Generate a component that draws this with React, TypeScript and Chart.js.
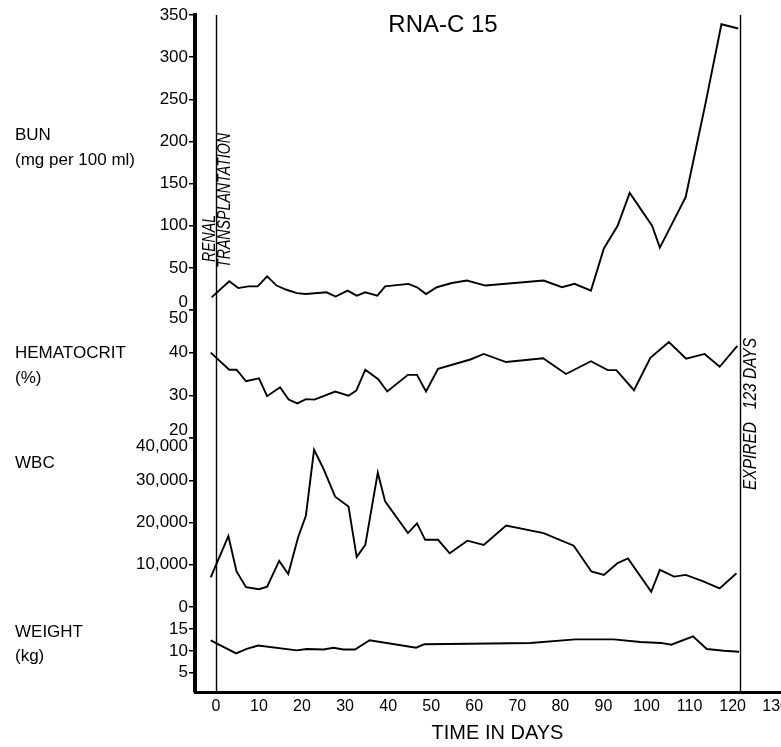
import React, { useEffect, useRef } from 'react';
import { Chart, registerables } from 'chart.js';

Chart.register(...registerables);

// ---- Data ----
const chartTitle = 'RNA-C 15';
const xTickValues = [0, 10, 20, 30, 40, 50, 60, 70, 80, 90, 100, 110, 120, 130];
const bunTickValues = [0, 50, 100, 150, 200, 250, 300, 350];
const hctTickValues = [20, 30, 40, 50];
const wbcTickValues = [0, 10000, 20000, 30000, 40000];
const weightTickValues = [5, 10, 15];

const transplantDay = 0;
const expiredDay = 121.6;

const bunDays = [-1, 3.1, 5.2, 7.5, 9.7, 11.9, 14.1, 16.4, 18.8, 20.9, 25.7, 27.8, 30.6, 32.7, 34.7, 37.5, 39.3, 44.7, 46.7, 48.8, 51.3, 54.8, 58.3, 62.6, 76.1, 80.4, 83.3, 87.1, 90.1, 93.3, 96.1, 101.3, 103.1, 106.4, 109.1, 113.7, 117.4, 121.3];
const bunValues = [15, 34, 26, 28, 28, 40, 29, 24, 20, 19, 21, 16, 23, 17, 21, 17, 28, 31, 27, 19, 27, 32, 35, 29, 35, 27, 31, 23, 73, 100, 139, 100, 74, 107, 134, 245, 339, 334];

const hctDays = [-1.2, 3.1, 4.8, 7.0, 10.0, 11.9, 14.9, 16.9, 18.9, 20.9, 22.9, 27.7, 30.8, 32.6, 34.7, 37.7, 39.8, 44.6, 46.7, 48.8, 51.6, 59.1, 62.2, 67.4, 76.0, 81.3, 87.1, 91.0, 93.0, 97.1, 100.9, 105.2, 109.2, 113.5, 117.0, 121.1];
const hctValues = [40, 36, 36, 33.3, 34, 29.8, 31.9, 29, 28.1, 29.1, 29, 30.9, 29.9, 31.1, 36, 33.8, 30.9, 34.8, 34.8, 30.9, 36.2, 38.4, 39.7, 37.8, 38.7, 35, 38, 35.9, 35.9, 31.2, 38.8, 42.5, 38.6, 39.7, 36.7, 41.6];

const wbcDays = [-1.2, 2.9, 4.8, 7.0, 10.0, 11.9, 14.7, 16.8, 19.1, 20.9, 22.8, 24.9, 27.7, 30.8, 32.7, 34.7, 37.6, 39.3, 44.6, 46.7, 48.6, 51.6, 54.3, 58.4, 62.2, 67.4, 76.1, 83.1, 87.2, 90.1, 93.3, 95.7, 101.1, 103.1, 106.4, 109.1, 112.9, 117.0, 120.9];
const wbcValues = [7000, 16800, 8400, 4700, 4200, 4800, 10900, 7800, 16500, 21600, 37200, 32900, 26100, 23800, 11800, 14700, 31800, 25000, 17500, 19800, 15900, 15900, 12700, 15700, 14700, 19300, 17500, 14500, 8400, 7600, 10400, 11500, 3600, 8800, 7200, 7600, 6200, 4400, 8000];

const weightDays = [-1.2, 4.7, 7.0, 9.8, 18.8, 21.1, 25.0, 27.3, 29.6, 32.3, 35.7, 46.5, 48.4, 59.1, 73.0, 83.5, 92.4, 98.6, 103.3, 105.8, 110.8, 114.0, 118.0, 121.5];
const weightValues = [12.4, 9.4, 10.4, 11.2, 10.1, 10.4, 10.3, 10.7, 10.3, 10.3, 12.4, 10.7, 11.5, 11.6, 11.8, 12.6, 12.6, 12.0, 11.8, 11.4, 13.3, 10.4, 10.0, 9.8];

const FONT = "'Liberation Sans', Arial, sans-serif";

function series(days: number[], values: number[], yAxisID: string) {
  return {
    data: days.map((d, i) => ({ x: d, y: values[i] })),
    xAxisID: 'x',
    yAxisID,
    borderColor: '#000',
    borderWidth: 1.9,
    pointRadius: 0,
    tension: 0,
    fill: false,
  };
}

function yScale(
  min: number,
  max: number,
  tickValues: number[],
  fmt: (v: number) => string | string[],
  weight: number,
  stackWeight: number
) {
  return {
    type: 'linear',
    position: 'left',
    stack: 'left',
    stackWeight,
    weight,
    min,
    max,
    border: { display: true, color: '#000', width: 4 },
    grid: {
      display: true,
      drawOnChartArea: false,
      drawTicks: true,
      tickLength: 6,
      color: '#000',
      lineWidth: 1.5,
    },
    ticks: {
      color: '#000',
      font: { family: FONT, size: 17, lineHeight: 0.95 },
      padding: 1,
      autoSkip: false,
      callback: (v: number) => fmt(v),
    },
    afterBuildTicks: (s: any) => {
      s.ticks = tickValues.map((v) => ({ value: v }));
    },
    afterFit: (s: any) => {
      s.width = 195;
      s.paddingTop = 0;
      s.paddingBottom = 0;
    },
  };
}

function vText(ctx: CanvasRenderingContext2D, text: string, cx: number, yBottom: number, length: number, font: string) {
  ctx.save();
  ctx.font = font;
  ctx.translate(cx, yBottom);
  ctx.rotate(-Math.PI / 2);
  const w = ctx.measureText(text).width;
  ctx.scale(length / w, 1);
  ctx.textAlign = 'left';
  ctx.textBaseline = 'middle';
  ctx.fillText(text, 0, 0);
  ctx.restore();
}

const annotatePlugin = {
  id: 'annotate',
  afterDatasetsDraw(chart: any) {
    const { ctx, chartArea, scales } = chart;
    const xs = scales.x;
    ctx.save();
    ctx.strokeStyle = '#000';
    ctx.lineWidth = 1.4;
    [transplantDay, expiredDay].forEach((d) => {
      const px = Math.round(xs.getPixelForValue(d)) + 0.5;
      ctx.beginPath();
      ctx.moveTo(px, chartArea.top);
      ctx.lineTo(px, chartArea.bottom);
      ctx.stroke();
    });

    ctx.fillStyle = '#000';
    ctx.textAlign = 'center';
    ctx.textBaseline = 'middle';
    ctx.font = `24px ${FONT}`;
    ctx.fillText(chartTitle, 443, 25);

    ctx.textAlign = 'left';
    ctx.font = `17px ${FONT}`;
    ctx.fillText('BUN', 15, 135);
    ctx.fillText('(mg per 100 ml)', 15, 160);
    ctx.fillText('HEMATOCRIT', 15, 353);
    ctx.fillText('(%)', 15, 378);
    ctx.fillText('WBC', 15, 463);
    ctx.fillText('WEIGHT', 15, 632);
    ctx.fillText('(kg)', 15, 656);

    const x0 = xs.getPixelForValue(transplantDay);
    const x1 = xs.getPixelForValue(expiredDay);
    vText(ctx, 'RENAL', x0 - 6, 262, 47, `italic 18px ${FONT}`);
    vText(ctx, 'TRANSPLANTATION', x0 + 9, 268, 135, `italic 18px ${FONT}`);
    vText(ctx, 'EXPIRED   123 DAYS', x1 + 11, 490, 152, `italic 18px ${FONT}`);
    ctx.restore();
  },
};

export default function App() {
  const ref = useRef<HTMLCanvasElement>(null);

  useEffect(() => {
    document.body.style.margin = '0';
    document.body.style.overflow = 'hidden';
    const canvas = ref.current!;
    const chart = new Chart(canvas, {
      type: 'line',
      data: {
        datasets: [
          series(bunDays, bunValues, 'bun'),
          series(hctDays, hctValues, 'hct'),
          series(wbcDays, wbcValues, 'wbc'),
          series(weightDays, weightValues, 'wt'),
        ] as any,
      },
      options: {
        responsive: false,
        animation: false,
        events: [],
        layout: { padding: { top: 15, left: 0, right: 0, bottom: 0 } },
        plugins: {
          legend: { display: false },
          tooltip: { enabled: false },
        },
        scales: {
          x: {
            type: 'linear',
            position: 'bottom',
            min: -4.85,
            max: 135.65,
            border: { display: true, color: '#000', width: 3 },
            grid: { display: false },
            ticks: {
              color: '#000',
              font: { family: FONT, size: 16 },
              padding: -3,
              autoSkip: false,
              maxRotation: 0,
              includeBounds: false,
              callback: (v: any) => String(v),
            },
            afterBuildTicks: (s: any) => {
              s.ticks = xTickValues.map((v) => ({ value: v }));
            },
            afterFit: (s: any) => {
              s.height = 55;
              s.paddingLeft = 0;
              s.paddingRight = 0;
            },
            title: {
              display: true,
              text: 'TIME IN DAYS',
              color: '#000',
              font: { family: FONT, size: 20 },
              padding: { top: 0, bottom: 2 },
              align: 'center',
            },
          },
          bun: yScale(0, 350, bunTickValues, (v) => (v === 0 ? ['0', ''] : String(v)), 4, 295),
          hct: yScale(20, 50, hctTickValues, (v) => (v === 50 ? ['', '50'] : v === 20 ? ['20', ''] : String(v)), 3, 128),
          wbc: yScale(0, 40000, wbcTickValues, (v) => (v === 40000 ? ['', '40,000'] : v === 0 ? '0' : v.toLocaleString('en-US')), 2, 169),
          wt: yScale(0.6, 20, weightTickValues, (v) => String(v), 1, 85),
        } as any,
      },
      plugins: [annotatePlugin],
    } as any);
    return () => chart.destroy();
  }, []);

  return (
    <div style={{ width: 781, height: 747, overflow: 'hidden', position: 'relative', background: '#fff' }}>
      <canvas ref={ref} width={800} height={747} style={{ display: 'block', width: 800, height: 747 }} />
    </div>
  );
}
